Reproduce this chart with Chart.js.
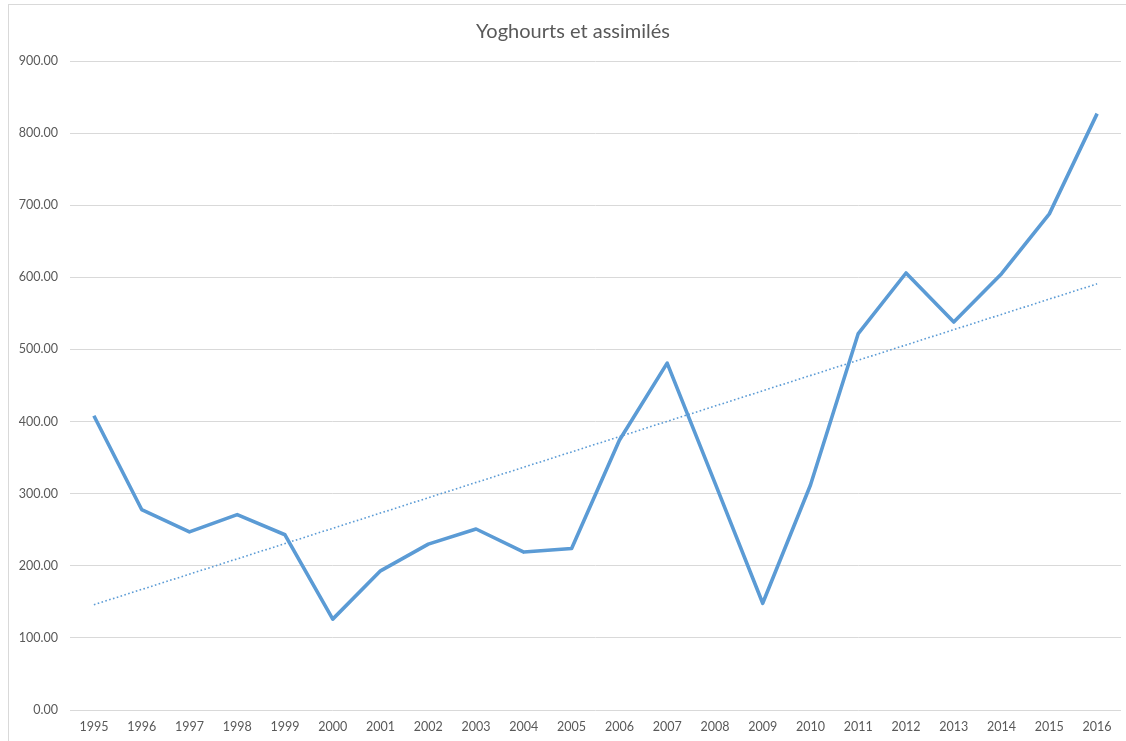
<!DOCTYPE html>
<html>
<head>
<meta charset="utf-8">
<script src="https://cdn.jsdelivr.net/npm/chart.js@4"></script>
<style>
    html, body { margin: 0; padding: 0; background: #fff; overflow: hidden; }
    #frame { position: absolute; left: 8px; top: 4px; width: 1200px; height: 800px; border: 1px solid #d9d9d9; }
    #wrap { position: absolute; left: 0; top: 0; width: 1126px; height: 741px; }
</style>
</head>
<body>
<div id="frame"></div>
<div id="wrap"><canvas id="yogChart"></canvas></div>
<script>
const years = ['1995', '1996', '1997', '1998', '1999', '2000', '2001', '2002', '2003', '2004', '2005',
    '2006', '2007', '2008', '2009', '2010', '2011', '2012', '2013', '2014', '2015', '2016'];
const volumes = [408, 278, 247, 271, 243, 126, 193, 230, 251, 219, 224,
    374, 481, 315, 148, 312, 522, 606, 538, 605, 688, 827];
// trend line ends
const trendEnds = [146, null, null, null, null, null, null, null, null, null, null,
    null, null, null, null, null, null, null, null, null, null, 591];
const yTicks = { min: 0, max: 900, step: 100 };

// the original chart box runs past the right edge, so its title sits a bit right of centre
const titleShift = {
    id: 'titleShift',
    afterLayout: function(chart) {
        if (chart.titleBlock) chart.titleBlock.left += 25;
    }
};

document.addEventListener("DOMContentLoaded", function() {
    const ctx = document.getElementById('yogChart').getContext('2d');
    new Chart(ctx, {
        type: 'line',
        data: {
            labels: years,
            datasets: [{
                label: 'Yoghourts et assimilés',
                data: volumes,
                borderColor: '#5b9bd5',
                borderWidth: 3.6,
                borderJoinStyle: 'round',
                pointRadius: 0,
                tension: 0
            }, {
                label: 'Tendance',
                data: trendEnds,
                spanGaps: true,
                borderColor: '#5b9bd5',
                borderWidth: 1.6,
                borderDash: [1.6, 2.4],
                pointRadius: 0,
                tension: 0
            }]
        },
        options: {
            responsive: true,
            maintainAspectRatio: false,
            animation: false,
            layout: { padding: { left: 0, right: 5, top: 0, bottom: 0 } },
            plugins: {
                legend: { display: false },
                tooltip: { enabled: false },
                title: {
                    display: true,
                    text: 'Yoghourts et assimilés',
                    color: '#595959',
                    font: { family: 'Lato', size: 20, weight: 'normal' },
                    padding: { top: 20, bottom: 17 }
                }
            },
            scales: {
                x: {
                    offset: true,
                    grid: { display: false, drawTicks: false },
                    border: { display: false },
                    ticks: { color: '#595959', font: { family: 'Lato', size: 12.5 }, padding: 9, maxRotation: 0, autoSkip: false },
                    afterFit: function(scale) { scale.height = 31; }
                },
                y: {
                    min: yTicks.min,
                    max: yTicks.max,
                    grid: { color: '#d9d9d9', lineWidth: 1, drawTicks: false },
                    border: { display: false },
                    ticks: {
                        stepSize: yTicks.step,
                        color: '#595959',
                        font: { family: 'Lato', size: 12.5 },
                        padding: 12,
                        callback: function(v) { return v.toFixed(2); }
                    },
                    afterFit: function(scale) { scale.width = 70; }
                }
            }
        },
        plugins: [titleShift]
    });
});
</script>
</body>
</html>
